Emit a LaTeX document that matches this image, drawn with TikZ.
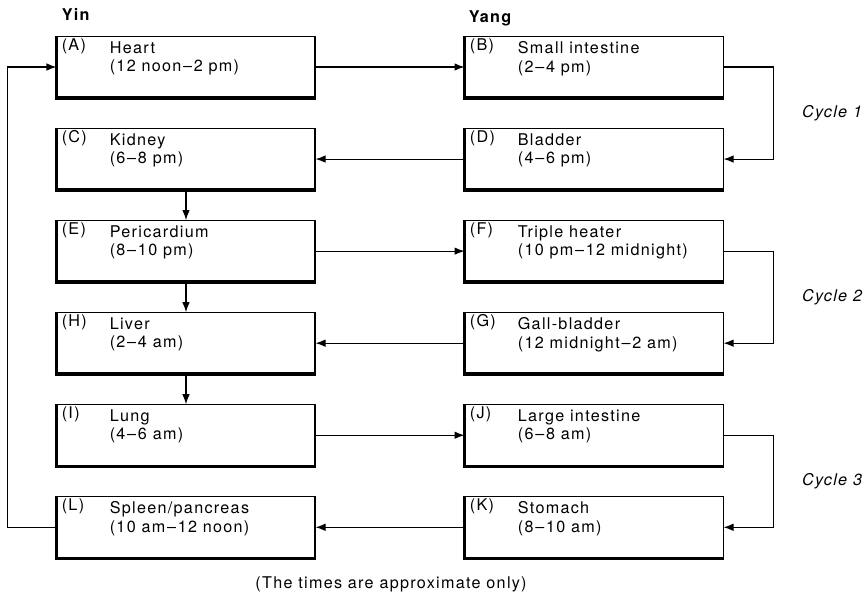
\documentclass[tikz,border=0pt]{standalone}
\usepackage{fontspec}
\setmainfont{TeX Gyre Heros}[LetterSpace=8]
\usepackage{tikz}
\usetikzlibrary{arrows.meta,positioning}
\tikzset{
  >={Latex[length=2mm,width=1.5mm]},
  every node/.style = {font=\fontsize{9.2}{10.6}\selectfont},
  organ/.style = {draw, line width=0.6pt, minimum width=5.16cm, minimum height=1.22cm, inner sep=0pt},
  tag/.style   = {anchor=north west, inner sep=0pt, xshift=0.1cm, yshift=-0.04cm},
  hours/.style = {anchor=north west, inner sep=0pt, align=left, xshift=1.06cm, yshift=-0.1cm},
  cyc/.style   = {inner sep=0pt, font=\fontsize{9.2}{10.6}\selectfont\itshape},
  head/.style  = {anchor=base west, inner sep=0pt, font=\fontsize{9.2}{10.6}\selectfont\bfseries},
  link/.style  = {->, line width=0.6pt},
  shade/.style = {line width=2pt}
}
\newcommand{\tdash}{\kern1pt--\kern1pt}

\begin{document}
\begin{tikzpicture}[node distance=0.6cm and 2.98cm]
\useasboundingbox (0,0) rectangle (17.32,-12);

\node[organ, label={[tag]north west:(A)}, label={[hours]north west:{Heart\\(12 noon\tdash 2 pm)}}] (A) at (3.72,-1.34) {};
\node[organ, right=of A, label={[tag]north west:(B)}, label={[hours]north west:{Small intestine\\(2\tdash 4 pm)}}] (B) {};
\node[organ, below=of A, label={[tag]north west:(C)}, label={[hours]north west:{Kidney\\(6\tdash 8 pm)}}] (C) {};
\node[organ, right=of C, label={[tag]north west:(D)}, label={[hours]north west:{Bladder\\(4\tdash 6 pm)}}] (D) {};
\node[organ, below=of C, label={[tag]north west:(E)}, label={[hours]north west:{Pericardium\\(8\tdash 10 pm)}}] (E) {};
\node[organ, right=of E, label={[tag]north west:(F)}, label={[hours]north west:{Triple heater\\(10 pm\tdash 12 midnight)}}] (F) {};
\node[organ, below=of E, label={[tag]north west:(H)}, label={[hours]north west:{Liver\\(2\tdash 4 am)}}] (H) {};
\node[organ, right=of H, label={[tag]north west:(G)}, label={[hours]north west:{Gall-bladder\\(12 midnight\tdash 2 am)}}] (G) {};
\node[organ, below=of H, label={[tag]north west:(I)}, label={[hours]north west:{Lung\\(4\tdash 6 am)}}] (I) {};
\node[organ, right=of I, label={[tag]north west:(J)}, label={[hours]north west:{Large intestine\\(6\tdash 8 am)}}] (J) {};
\node[organ, below=of I, label={[tag]north west:(L)}, label={[hours]north west:{Spleen/pancreas\\(10 am\tdash 12 noon)}}] (L) {};
\node[organ, right=of L, label={[tag]north west:(K)}, label={[hours]north west:{Stomach\\(8\tdash 10 am)}}] (K) {};

\foreach \n in {A,B,C,D,E,F,G,H,I,J,K,L}
  \draw[shade] (\n.north west) -- (\n.south west) -- (\n.south east);

\node[head] (yin) at ([xshift=0.1cm, yshift=0.3cm]A.north west) {Yin};
\node[head] (yang) at ([xshift=0.08cm, yshift=0.26cm]B.north west) {Yang};

\draw[link] (A) -- (B);
\draw[link] (B.east) -- ++(1cm,0) |- node[cyc, pos=0.25, right=0.56cm] (cyc1) {Cycle 1} (D.east);
\draw[link] (D) -- (C);
\draw[link] (C) -- (E);
\draw[link] (E) -- (F);
\draw[link] (F.east) -- ++(1cm,0) |- node[cyc, pos=0.25, right=0.56cm] (cyc2) {Cycle 2} (G.east);
\draw[link] (G) -- (H);
\draw[link] (E) -- (H);
\draw[link] (H) -- (I);
\draw[link] (I) -- (J);
\draw[link] (J.east) -- ++(1cm,0) |- node[cyc, pos=0.25, right=0.56cm] (cyc3) {Cycle 3} (K.east);
\draw[link] (K) -- (L);
\draw[link] (L.west) -- ++(-0.98cm,0) |- (A.west);

\node[anchor=base] (note) at (7.82,-11.76) {(The times are approximate only)};
\end{tikzpicture}
\end{document}
